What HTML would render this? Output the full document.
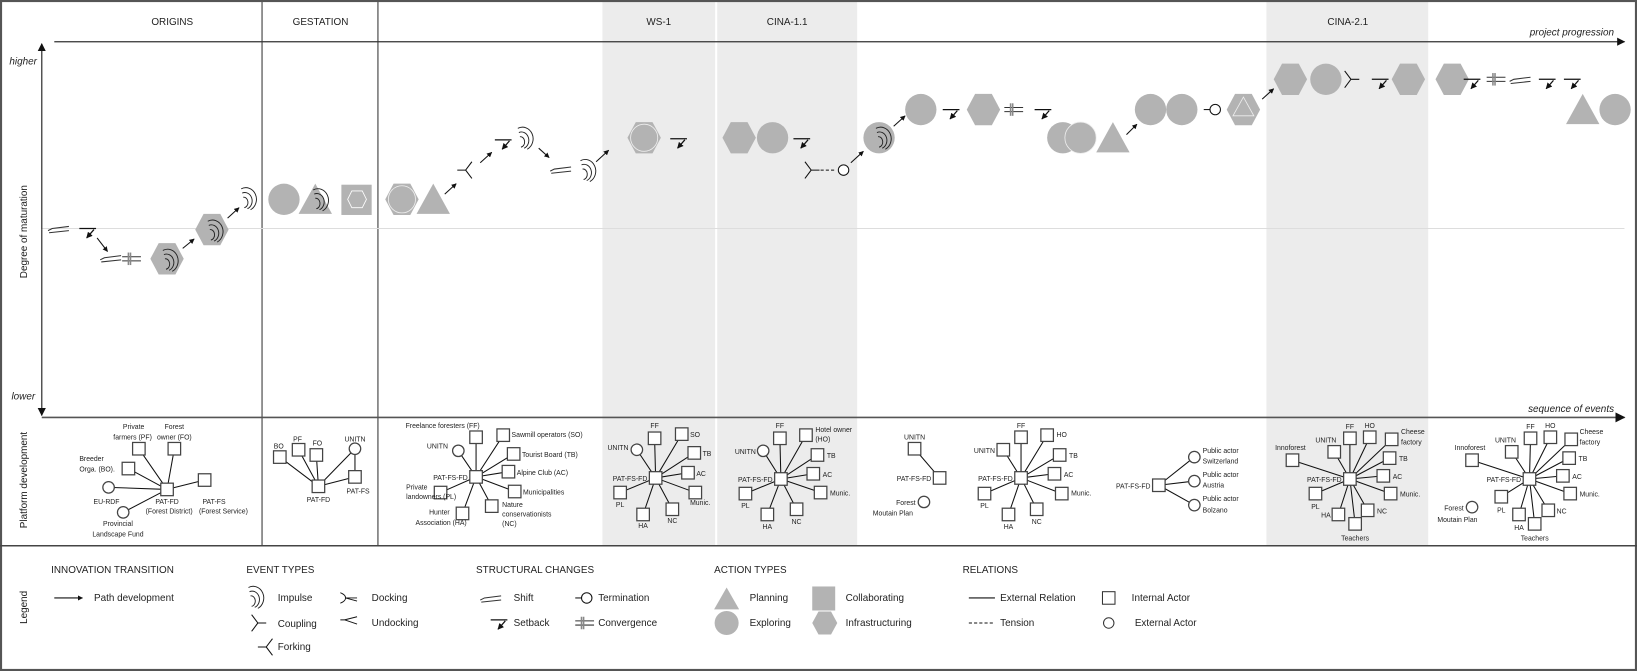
<!DOCTYPE html>
<html><head><meta charset="utf-8">
<style>
html,body{margin:0;padding:0;background:#fff;}
svg{display:block;}
text{font-family:"Liberation Sans",sans-serif;fill:#222;}
.h{font-size:9.5px;}
.s{font-size:6.6px;}
.l{font-size:9.5px;}
.ln{stroke:#111;stroke-width:1;fill:none;}
.nd{fill:#fff;stroke:#444;stroke-width:1.2;}
.g{fill:#b3b3b3;}
</style></head><body>
<svg width="1637" height="671" viewBox="0 0 1568 643" preserveAspectRatio="none" xmlns="http://www.w3.org/2000/svg">
<defs>
<marker id="ar" viewBox="0 0 10 10" refX="9" refY="5" markerWidth="5" markerHeight="5" orient="auto"><path d="M0,0 L10,5 L0,10 z" fill="#111"/></marker>
<marker id="ab" viewBox="0 0 10 10" refX="9" refY="5" markerWidth="6" markerHeight="6" orient="auto"><path d="M0,0 L10,5 L0,10 z" fill="#111"/></marker>
<g id="imp" fill="none" stroke="#222" stroke-width="0.9"><path d="M-4,-3 A4,5 0 0 1 -3,7"/><path d="M-5,-7 A7,8 0 0 1 0,8"/><path d="M-6,-11 A10,11 0 0 1 3,9"/></g>
<g id="sb"><line x1="-8" y1="0" x2="8" y2="0" stroke="#111" stroke-width="1.2"/><line x1="6" y1="1" x2="-1" y2="9" stroke="#111" stroke-width="1.2" marker-end="url(#ar)"/></g>
<g id="sh" stroke="#333" stroke-width="1" fill="none"><path d="M-11,2 L-7,0 L9,-2"/><path d="M-10,4 L9,2"/></g>
<g id="cv" stroke="#333" stroke-width="1"><line x1="-9" y1="-2" x2="9" y2="-2"/><line x1="-9" y1="2" x2="9" y2="2"/><line x1="-3" y1="-6" x2="-3" y2="6" stroke="#888" stroke-width="1.5"/><line x1="-1" y1="-6" x2="-1" y2="6" stroke="#888" stroke-width="1.5"/></g>
<g id="cp" stroke="#111" stroke-width="1" fill="none"><path d="M-6,-8 L0,0 L-6,8 M0,0 L8,0"/></g>
<g id="fk" stroke="#111" stroke-width="1" fill="none"><path d="M6,-8 L0,0 L6,8 M0,0 L-8,0"/></g>
<g id="tm"><line x1="-11" y1="0" x2="-5" y2="0" stroke="#111"/><circle cx="0" cy="0" r="5" fill="#fff" stroke="#111"/></g>
<polygon id="hex" class="g" points="-16,0 -8,-15 8,-15 16,0 8,15 -8,15"/>
<circle id="cir" class="g" r="15"/>
<polygon id="tri" class="g" points="-16,14 0,-15 16,14"/>
</defs>

<!-- shaded bands -->
<rect x="577" y="1" width="108" height="522" fill="#ececec"/>
<rect x="687" y="1" width="134" height="522" fill="#ececec"/>
<rect x="1213" y="1" width="155" height="522" fill="#ececec"/>

<!-- frame -->
<rect x="1" y="1" width="1566" height="641" fill="none" stroke="#555" stroke-width="2"/>
<line x1="251" y1="0" x2="251" y2="523" stroke="#555" stroke-width="1.2"/>
<line x1="362" y1="0" x2="362" y2="523" stroke="#555" stroke-width="1.2"/>
<line x1="0" y1="523" x2="1568" y2="523" stroke="#444" stroke-width="1.5"/>

<!-- headers -->
<text class="h" x="165" y="24" text-anchor="middle">ORIGINS</text>
<text class="h" x="307" y="24" text-anchor="middle">GESTATION</text>
<text class="h" x="631" y="24" text-anchor="middle">WS-1</text>
<text class="h" x="754" y="24" text-anchor="middle">CINA-1.1</text>
<text class="h" x="1291" y="24" text-anchor="middle">CINA-2.1</text>
<text class="h" x="1546" y="34" text-anchor="end" font-style="italic">project progression</text>
<text class="h" x="1546" y="395" text-anchor="end" font-style="italic">sequence of events</text>
<text class="h" x="9" y="62" font-style="italic">higher</text>
<text class="h" x="11" y="383" font-style="italic">lower</text>
<text class="h" transform="translate(26,222) rotate(-90)" text-anchor="middle">Degree of maturation</text>
<text class="h" transform="translate(26,460) rotate(-90)" text-anchor="middle">Platform development</text>
<text class="h" transform="translate(26,582) rotate(-90)" text-anchor="middle">Legend</text>

<!-- axes -->
<line x1="52" y1="40" x2="1556" y2="40" stroke="#333" stroke-width="1.3" marker-end="url(#ab)"/>
<line x1="40" y1="219" x2="1556" y2="219" stroke="#ddd" stroke-width="1"/>
<line x1="40" y1="400" x2="1556" y2="400" stroke="#555" stroke-width="1.6" marker-end="url(#ab)"/>
<line x1="40" y1="220" x2="40" y2="42" stroke="#444" stroke-width="1.3" marker-end="url(#ab)"/>
<line x1="40" y1="220" x2="40" y2="398" stroke="#444" stroke-width="1.3" marker-end="url(#ab)"/>

<!-- main path -->
<use href="#sh" x="57" y="219"/>
<use href="#sb" x="84" y="219"/>
<line x1="93" y1="228" x2="103" y2="241" class="ln" marker-end="url(#ar)"/>
<use href="#sh" x="107" y="247"/>
<use href="#cv" x="126" y="248"/>
<use href="#hex" x="160" y="248"/><use href="#imp" x="162" y="251"/>
<line x1="175" y1="238" x2="186" y2="229" class="ln" marker-end="url(#ar)"/>
<use href="#hex" x="203" y="220"/><use href="#imp" x="205" y="223"/>
<line x1="218" y1="209" x2="229" y2="199" class="ln" marker-end="url(#ar)"/>
<use href="#imp" x="237" y="192"/>
<use href="#cir" x="272" y="191"/>
<use href="#tri" x="302" y="191"/><use href="#imp" x="306" y="193"/>
<rect x="327" y="177" width="29" height="29" class="g"/>
<polygon points="333,191 337,183 347,183 351,191 347,199 337,199" fill="none" stroke="#fff" stroke-width="0.8"/>
<use href="#hex" x="385" y="191"/><circle cx="385" cy="191" r="13" fill="#b3b3b3" stroke="#eee" stroke-width="0.8"/>
<use href="#tri" x="415" y="191"/>
<line x1="426" y1="186" x2="437" y2="176" class="ln" marker-end="url(#ar)"/>
<use href="#fk" x="446" y="163"/>
<line x1="460" y1="156" x2="471" y2="146" class="ln" marker-end="url(#ar)"/>
<use href="#sb" x="482" y="134"/>
<use href="#imp" x="502" y="134"/>
<line x1="516" y1="142" x2="526" y2="151" class="ln" marker-end="url(#ar)"/>
<use href="#sh" x="538" y="162"/>
<use href="#imp" x="562" y="165"/>
<line x1="571" y1="155" x2="583" y2="144" class="ln" marker-end="url(#ar)"/>
<use href="#hex" x="617" y="132"/><circle cx="617" cy="132" r="13" fill="#b3b3b3" stroke="#eee" stroke-width="0.8"/>
<use href="#sb" x="650" y="133"/>
<use href="#hex" x="708" y="132"/>
<use href="#cir" x="740" y="132"/>
<use href="#sb" x="768" y="133"/>
<use href="#cp" x="777" y="163"/>
<line x1="786" y1="163" x2="801" y2="163" stroke="#111" stroke-dasharray="3,2"/>
<circle cx="808" cy="163" r="5" fill="#fff" stroke="#111"/>
<line x1="815" y1="156" x2="827" y2="145" class="ln" marker-end="url(#ar)"/>
<use href="#cir" x="842" y="132"/><use href="#imp" x="845" y="134"/>
<line x1="856" y1="121" x2="867" y2="111" class="ln" marker-end="url(#ar)"/>
<use href="#cir" x="882" y="105"/>
<use href="#sb" x="911" y="105"/>
<use href="#hex" x="942" y="105"/>
<use href="#cv" x="971" y="105"/>
<use href="#sb" x="999" y="105"/>
<use href="#cir" x="1018" y="132"/>
<circle cx="1035" cy="132" r="15" fill="#b3b3b3" stroke="#eee" stroke-width="0.8"/>
<use href="#tri" x="1066" y="132"/>
<line x1="1079" y1="129" x2="1089" y2="119" class="ln" marker-end="url(#ar)"/>
<use href="#cir" x="1102" y="105"/>
<use href="#cir" x="1132" y="105"/>
<use href="#tm" x="1164" y="105"/>
<use href="#hex" x="1191" y="105"/>
<polygon points="1191,93 1201,111 1181,111" fill="none" stroke="#eee" stroke-width="0.8"/>
<line x1="1209" y1="95" x2="1220" y2="85" class="ln" marker-end="url(#ar)"/>
<use href="#hex" x="1236" y="76"/>
<use href="#cir" x="1270" y="76"/>
<use href="#cp" x="1294" y="76"/>
<use href="#sb" x="1322" y="76"/>
<use href="#hex" x="1349" y="76"/>
<use href="#hex" x="1391" y="76"/>
<use href="#sb" x="1410" y="76"/>
<use href="#cv" x="1433" y="76"/>
<use href="#sh" x="1457" y="76"/>
<use href="#sb" x="1482" y="76"/>
<use href="#sb" x="1506" y="76"/>
<use href="#tri" x="1516" y="105"/>
<use href="#cir" x="1547" y="105"/>

<!-- ORIGINS network -->
<g class="ln" stroke="#222">
<path d="M160,469 L133,430 M160,469 L167,430 M160,469 L123,449 M160,469 L104,467 M160,469 L196,460 M160,469 L118,491"/>
<path d="M305,466 L268,438 M305,466 L286,431 M305,466 L303,436 M305,466 L340,430 M305,466 L340,457 M340,430 L340,457"/>
<path d="M456,457 L456,419 M456,457 L482,417 M456,457 L439,432 M456,457 L492,435 M456,457 L487,452 M456,457 L493,471 M456,457 L422,472 M456,457 L443,492 M456,457 L471,485"/>
<path d="M628,458 L627,420 M628,458 L653,416 M628,458 L610,431 M628,458 L665,434 M628,458 L659,453 M628,458 L666,472 M628,458 L594,472 M628,458 L616,493 M628,458 L644,488"/>
<path d="M748,459 L747,420 M748,459 L772,417 M748,459 L731,432 M748,459 L783,436 M748,459 L779,454 M748,459 L786,472 M748,459 L714,473 M748,459 L735,493 M748,459 L763,488"/>
<path d="M876,430 L900,458"/>
<path d="M978,458 L978,419 M978,458 L1003,417 M978,458 L961,431 M978,458 L1015,436 M978,458 L1010,454 M978,458 L1017,473 M978,458 L943,473 M978,458 L966,493 M978,458 L993,488"/>
<path d="M1110,465 L1144,438 M1110,465 L1144,461 M1110,465 L1144,484"/>
<path d="M1293,459 L1238,441 M1293,459 L1278,433 M1293,459 L1293,420 M1293,459 L1312,419 M1293,459 L1333,421 M1293,459 L1331,439 M1293,459 L1325,456 M1293,459 L1332,473 M1293,459 L1260,473 M1293,459 L1282,493 M1293,459 L1310,489 M1293,459 L1298,502"/>
<path d="M1465,459 L1410,441 M1465,459 L1448,433 M1465,459 L1466,420 M1465,459 L1485,419 M1465,459 L1505,421 M1465,459 L1503,439 M1465,459 L1497,456 M1465,459 L1504,473 M1465,459 L1438,476 M1465,459 L1455,493 M1465,459 L1483,489 M1465,459 L1470,502"/>
</g>
<g class="nd">
<!-- origins -->
<rect x="127" y="424" width="12" height="12"/><rect x="161" y="424" width="12" height="12"/><rect x="117" y="443" width="12" height="12"/><rect x="190" y="454" width="12" height="12"/><rect x="154" y="463" width="12" height="12"/>
<circle cx="104" cy="467" r="5.5"/><circle cx="118" cy="491" r="5.5"/>
<!-- gestation -->
<rect x="262" y="432" width="12" height="12"/><rect x="280" y="425" width="12" height="12"/><rect x="297" y="430" width="12" height="12"/><rect x="334" y="451" width="12" height="12"/><rect x="299" y="460" width="12" height="12"/><circle cx="340" cy="430" r="5.5"/>
<!-- third -->
<rect x="450" y="413" width="12" height="12"/><rect x="476" y="411" width="12" height="12"/><rect x="486" y="429" width="12" height="12"/><rect x="481" y="446" width="12" height="12"/><rect x="487" y="465" width="12" height="12"/><rect x="416" y="466" width="12" height="12"/><rect x="437" y="486" width="12" height="12"/><rect x="465" y="479" width="12" height="12"/><rect x="450" y="451" width="12" height="12"/><circle cx="439" cy="432" r="5.5"/>
<!-- ws1 -->
<rect x="621" y="414" width="12" height="12"/><rect x="647" y="410" width="12" height="12"/><rect x="659" y="428" width="12" height="12"/><rect x="653" y="447" width="12" height="12"/><rect x="660" y="466" width="12" height="12"/><rect x="588" y="466" width="12" height="12"/><rect x="610" y="487" width="12" height="12"/><rect x="638" y="482" width="12" height="12"/><rect x="622" y="452" width="12" height="12"/><circle cx="610" cy="431" r="5.5"/>
<!-- cina 1.1 -->
<rect x="741" y="414" width="12" height="12"/><rect x="766" y="411" width="12" height="12"/><rect x="777" y="430" width="12" height="12"/><rect x="773" y="448" width="12" height="12"/><rect x="780" y="466" width="12" height="12"/><rect x="708" y="467" width="12" height="12"/><rect x="729" y="487" width="12" height="12"/><rect x="757" y="482" width="12" height="12"/><rect x="742" y="453" width="12" height="12"/><circle cx="731" cy="432" r="5.5"/>
<!-- small -->
<rect x="870" y="424" width="12" height="12"/><rect x="894" y="452" width="12" height="12"/><circle cx="885" cy="481" r="5.5"/>
<!-- net 4 -->
<rect x="972" y="413" width="12" height="12"/><rect x="997" y="411" width="12" height="12"/><rect x="955" y="425" width="12" height="12"/><rect x="1009" y="430" width="12" height="12"/><rect x="1004" y="448" width="12" height="12"/><rect x="1011" y="467" width="12" height="12"/><rect x="937" y="467" width="12" height="12"/><rect x="960" y="487" width="12" height="12"/><rect x="987" y="482" width="12" height="12"/><rect x="972" y="452" width="12" height="12"/>
<!-- public actors -->
<rect x="1104" y="459" width="12" height="12"/><circle cx="1144" cy="438" r="5.5"/><circle cx="1144" cy="461" r="5.5"/><circle cx="1144" cy="484" r="5.5"/>
<!-- cina 2.1 -->
<rect x="1232" y="435" width="12" height="12"/><rect x="1272" y="427" width="12" height="12"/><rect x="1287" y="414" width="12" height="12"/><rect x="1306" y="413" width="12" height="12"/><rect x="1327" y="415" width="12" height="12"/><rect x="1325" y="433" width="12" height="12"/><rect x="1319" y="450" width="12" height="12"/><rect x="1326" y="467" width="12" height="12"/><rect x="1254" y="467" width="12" height="12"/><rect x="1276" y="487" width="12" height="12"/><rect x="1304" y="483" width="12" height="12"/><rect x="1292" y="496" width="12" height="12"/><rect x="1287" y="453" width="12" height="12"/>
<!-- last -->
<rect x="1404" y="435" width="12" height="12"/><rect x="1442" y="427" width="12" height="12"/><rect x="1460" y="414" width="12" height="12"/><rect x="1479" y="413" width="12" height="12"/><rect x="1499" y="415" width="12" height="12"/><rect x="1497" y="433" width="12" height="12"/><rect x="1491" y="450" width="12" height="12"/><rect x="1498" y="467" width="12" height="12"/><rect x="1432" y="470" width="12" height="12"/><rect x="1449" y="487" width="12" height="12"/><rect x="1477" y="483" width="12" height="12"/><rect x="1464" y="496" width="12" height="12"/><rect x="1459" y="453" width="12" height="12"/><circle cx="1410" cy="486" r="5.5"/>
</g>

<!-- network labels -->
<g class="s">
<text x="128" y="411" text-anchor="middle">Private</text><text x="127" y="421" text-anchor="middle">farmers (PF)</text>
<text x="167" y="411" text-anchor="middle">Forest</text><text x="167" y="421" text-anchor="middle">owner (FO)</text>
<text x="76" y="442">Breeder</text><text x="76" y="452">Orga. (BO).</text>
<text x="102" y="483" text-anchor="middle">EU-RDF</text>
<text x="160" y="483" text-anchor="middle">PAT-FD</text><text x="162" y="492" text-anchor="middle">(Forest District)</text>
<text x="205" y="483" text-anchor="middle">PAT-FS</text><text x="214" y="492" text-anchor="middle">(Forest Service)</text>
<text x="113" y="504" text-anchor="middle">Provincial</text><text x="113" y="514" text-anchor="middle">Landscape Fund</text>

<text x="267" y="430" text-anchor="middle">BO</text><text x="285" y="423" text-anchor="middle">PF</text><text x="304" y="427" text-anchor="middle">FO</text><text x="340" y="423" text-anchor="middle">UNITN</text>
<text x="305" y="481" text-anchor="middle">PAT-FD</text><text x="343" y="473" text-anchor="middle">PAT-FS</text>

<text x="424" y="410" text-anchor="middle">Freelance foresters (FF)</text>
<text x="490" y="419">Sawmill operators (SO)</text>
<text x="419" y="430" text-anchor="middle">UNITN</text>
<text x="500" y="438">Tourist Board (TB)</text>
<text x="495" y="455">Alpine Club (AC)</text>
<text x="501" y="474">Municipalities</text>
<text x="448" y="460" text-anchor="end">PAT-FS-FD</text>
<text x="389" y="469">Private</text><text x="389" y="478">landowners (PL)</text>
<text x="411" y="493">Hunter</text><text x="398" y="503">Association (HA)</text>
<text x="481" y="486">Nature</text><text x="481" y="495">conservationists</text><text x="481" y="504">(NC)</text>

<text x="627" y="410" text-anchor="middle">FF</text><text x="661" y="419">SO</text><text x="602" y="431" text-anchor="end">UNITN</text>
<text x="673" y="437">TB</text><text x="667" y="456">AC</text><text x="661" y="484">Munic.</text>
<text x="620" y="461" text-anchor="end">PAT-FS-FD</text><text x="594" y="486" text-anchor="middle">PL</text><text x="616" y="506" text-anchor="middle">HA</text><text x="644" y="501" text-anchor="middle">NC</text>

<text x="747" y="410" text-anchor="middle">FF</text><text x="781" y="414">Hotel owner</text><text x="781" y="423">(HO)</text><text x="724" y="435" text-anchor="end">UNITN</text>
<text x="792" y="439">TB</text><text x="788" y="457">AC</text><text x="795" y="475">Munic.</text>
<text x="740" y="462" text-anchor="end">PAT-FS-FD</text><text x="714" y="487" text-anchor="middle">PL</text><text x="735" y="507" text-anchor="middle">HA</text><text x="763" y="502" text-anchor="middle">NC</text>

<text x="876" y="421" text-anchor="middle">UNITN</text><text x="892" y="461" text-anchor="end">PAT-FS-FD</text>
<text x="877" y="484" text-anchor="end">Forest</text><text x="836" y="494">Moutain Plan</text>

<text x="978" y="410" text-anchor="middle">FF</text><text x="1012" y="419">HO</text><text x="953" y="434" text-anchor="end">UNITN</text>
<text x="1024" y="439">TB</text><text x="1019" y="457">AC</text><text x="1026" y="475">Munic.</text>
<text x="970" y="461" text-anchor="end">PAT-FS-FD</text><text x="943" y="487" text-anchor="middle">PL</text><text x="966" y="507" text-anchor="middle">HA</text><text x="993" y="502" text-anchor="middle">NC</text>

<text x="1102" y="468" text-anchor="end">PAT-FS-FD</text>
<text x="1152" y="434">Public actor</text><text x="1152" y="444">Switzerland</text>
<text x="1152" y="457">Public actor</text><text x="1152" y="467">Austria</text>
<text x="1152" y="480">Public actor</text><text x="1152" y="491">Bolzano</text>

<text x="1236" y="431" text-anchor="middle">Innoforest</text><text x="1270" y="424" text-anchor="middle">UNITN</text><text x="1293" y="411" text-anchor="middle">FF</text><text x="1312" y="410" text-anchor="middle">HO</text>
<text x="1342" y="416">Cheese</text><text x="1342" y="426">factory</text><text x="1340" y="442">TB</text><text x="1334" y="459">AC</text><text x="1341" y="476">Munic.</text>
<text x="1285" y="462" text-anchor="end">PAT-FS-FD</text><text x="1260" y="488" text-anchor="middle">PL</text><text x="1270" y="496" text-anchor="middle">HA</text><text x="1319" y="492">NC</text><text x="1298" y="518" text-anchor="middle">Teachers</text>

<text x="1408" y="431" text-anchor="middle">Innoforest</text><text x="1442" y="424" text-anchor="middle">UNITN</text><text x="1466" y="411" text-anchor="middle">FF</text><text x="1485" y="410" text-anchor="middle">HO</text>
<text x="1513" y="416">Cheese</text><text x="1513" y="426">factory</text><text x="1512" y="442">TB</text><text x="1506" y="459">AC</text><text x="1513" y="476">Munic.</text>
<text x="1457" y="462" text-anchor="end">PAT-FS-FD</text><text x="1438" y="491" text-anchor="middle">PL</text><text x="1455" y="508" text-anchor="middle">HA</text><text x="1491" y="492">NC</text><text x="1470" y="518" text-anchor="middle">Teachers</text>
<text x="1402" y="489" text-anchor="end">Forest</text><text x="1396" y="500" text-anchor="middle">Moutain Plan</text>
</g>

<!-- legend -->
<g class="l">
<text x="49" y="549">INNOVATION TRANSITION</text>
<line x1="52" y1="573" x2="79" y2="573" class="ln" marker-end="url(#ar)"/>
<text x="90" y="576">Path development</text>

<text x="236" y="549">EVENT TYPES</text>
<use href="#imp" x="244" y="574"/><text x="266" y="576">Impulse</text>
<use href="#cp" x="247" y="597"/><text x="266" y="601">Coupling</text>
<use href="#fk" x="255" y="620"/><text x="266" y="623">Forking</text>
<g stroke="#111" fill="none" stroke-width="0.9"><path d="M326,568 Q331,570 331,573 L342,573 M331,573 Q331,576 326,578 M331,573 L342,576"/><path d="M330,594 L342,591 M330,594 L342,598 M326,594 L332,594"/></g>
<text x="356" y="576">Docking</text><text x="356" y="600">Undocking</text>

<text x="456" y="549">STRUCTURAL CHANGES</text>
<use href="#sh" x="471" y="573"/><text x="492" y="576">Shift</text>
<use href="#sb" x="478" y="594"/><text x="492" y="600">Setback</text>
<use href="#tm" x="562" y="573"/><text x="573" y="576">Termination</text>
<use href="#cv" x="560" y="597"/><text x="573" y="600">Convergence</text>

<text x="684" y="549">ACTION TYPES</text>
<polygon class="g" points="684,584 696,563 708,584"/><text x="718" y="576">Planning</text>
<circle class="g" cx="696" cy="597" r="11.5"/><text x="718" y="600">Exploring</text>
<rect class="g" x="778" y="562" width="22" height="23"/><text x="810" y="576">Collaborating</text>
<polygon class="g" points="778,597 784,586 796,586 802,597 796,608 784,608"/><text x="810" y="600">Infrastructuring</text>

<text x="922" y="549">RELATIONS</text>
<line x1="928" y1="573" x2="953" y2="573" stroke="#111"/><text x="958" y="576">External Relation</text>
<line x1="928" y1="597" x2="953" y2="597" stroke="#111" stroke-dasharray="3,2"/><text x="958" y="600">Tension</text>
<rect x="1056" y="567" width="12" height="12" fill="#fff" stroke="#333"/><text x="1084" y="576">Internal Actor</text>
<circle cx="1062" cy="597" r="5" fill="#fff" stroke="#333"/><text x="1087" y="600">External Actor</text>
</g>
</svg>
</body></html>
